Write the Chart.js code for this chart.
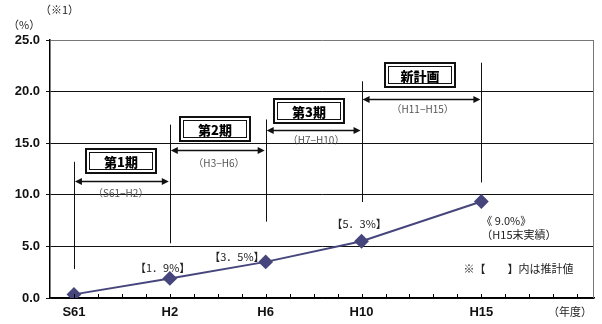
<!DOCTYPE html>
<html>
<head>
<meta charset="utf-8">
<script src="https://cdn.jsdelivr.net/npm/chart.js@4/dist/chart.umd.min.js"></script>
<style>
  html, body { margin: 0; padding: 0; background: #fff; }
  #wrap { width: 602px; height: 324px; }
</style>
</head>
<body>
<div id="wrap"><canvas id="chart"></canvas></div>
<script>
// years on the x axis (S61 = 1986, H2 = 1990 ...)
const years = [1986, 1990, 1994, 1998, 2003];
const yearLabels = ["S61", "H2", "H6", "H10", "H15"];
const rates = [0.35, 1.9, 3.5, 5.5, 9.35];

// plan periods
const periodNames = ["第1期", "第2期", "第3期", "新計画"];
const periodFrom = [1986, 1990, 1994, 1998];
const periodTo = [1990, 1994, 1998, 2003];
const periodRange = ["（S61−H2）", "（H3−H6）", "（H7−H10）", "（H11−H15）"];

// value labels next to points
const pointNotes = ["【1．9%】", "【3．5%】", "【5．3%】"];

const JP = "'Noto Sans CJK JP', 'Liberation Sans', sans-serif";
const LINE = "#46467c";

// where the annotation pieces sit, in axis units (year, %)
const vlines = [[1986, 2.8, 13.2], [1990, 5.3, 16.8], [1994, 7.4, 17.3], [1998, 9.3, 21.0], [2003, 11.2, 22.8]];
const arrowY = [11.3, 14.3, 16.3, 19.3];
const rangePos = [[1987.95, 10.2], [1992.05, 13.1], [1996.1, 15.3], [2000.55, 18.3]];
const boxPos = [[1987.95, 13.3], [1991.9, 16.4], [1995.8, 18.1], [2000.45, 21.6]];
const notePos = [[1989.7, 2.9], [1992.8, 3.95], [1997.9, 7.2]];

function arrowHead(ctx, x, y, dir) {
  ctx.beginPath();
  ctx.moveTo(x, y);
  ctx.lineTo(x - dir * 7, y - 3.5);
  ctx.lineTo(x - dir * 7, y + 3.5);
  ctx.closePath();
  ctx.fill();
}

const annotations = {
  id: "annotations",
  afterDraw(chart) {
    const ctx = chart.ctx;
    const xs = chart.scales.x, ys = chart.scales.y;
    const a = chart.chartArea;
    ctx.save();

    // inward year ticks on the x axis
    ctx.strokeStyle = "#000";
    ctx.lineWidth = 1;
    for (let yr = 1986; yr <= 2007; yr++) {
      const px = Math.round(xs.getPixelForValue(yr)) + 0.5;
      ctx.beginPath();
      ctx.moveTo(px, a.bottom);
      ctx.lineTo(px, a.bottom - 4);
      ctx.stroke();
    }

    // vertical period lines
    ctx.strokeStyle = "#111";
    vlines.forEach(v => {
      const px = Math.round(xs.getPixelForValue(v[0])) + 0.5;
      ctx.beginPath();
      ctx.moveTo(px, ys.getPixelForValue(v[1]));
      ctx.lineTo(px, ys.getPixelForValue(v[2]));
      ctx.stroke();
    });

    // double arrows
    ctx.fillStyle = "#111";
    ctx.lineWidth = 1.5;
    periodFrom.forEach((f, i) => {
      const x1 = xs.getPixelForValue(f) + 1, x2 = xs.getPixelForValue(periodTo[i]) - 1;
      const py = Math.round(ys.getPixelForValue(arrowY[i])) + 0.5;
      ctx.beginPath();
      ctx.moveTo(x1 + 5, py);
      ctx.lineTo(x2 - 5, py);
      ctx.stroke();
      arrowHead(ctx, x1, py, -1);
      arrowHead(ctx, x2, py, 1);
    });

    // period ranges
    ctx.fillStyle = "#555";
    ctx.font = "10px " + JP;
    ctx.textAlign = "center";
    ctx.textBaseline = "middle";
    rangePos.forEach((p, i) => {
      ctx.fillText(periodRange[i], xs.getPixelForValue(p[0]), ys.getPixelForValue(p[1]));
    });

    // framed period names
    boxPos.forEach((p, i) => {
      const cx = Math.round(xs.getPixelForValue(p[0]));
      const cy = Math.round(ys.getPixelForValue(p[1]));
      const w = 70, h = 24;
      ctx.fillStyle = "#fff";
      ctx.fillRect(cx - w / 2, cy - h / 2, w, h);
      ctx.strokeStyle = "#111";
      ctx.lineWidth = 2;
      ctx.strokeRect(cx - w / 2, cy - h / 2, w, h);
      ctx.lineWidth = 1;
      ctx.strokeRect(cx - w / 2 + 3.5, cy - h / 2 + 3.5, w - 7, h - 7);
      ctx.fillStyle = "#000";
      ctx.font = "900 13px " + JP;
      ctx.fillText(periodNames[i], cx, cy + 1);
    });

    // value notes
    ctx.fillStyle = "#222";
    ctx.font = "11px " + JP;
    notePos.forEach((p, i) => {
      ctx.fillText(pointNotes[i], xs.getPixelForValue(p[0]), ys.getPixelForValue(p[1]));
    });
    ctx.textAlign = "left";
    ctx.fillText("《 9.0%》", xs.getPixelForValue(2003), ys.getPixelForValue(7.45));
    ctx.fillText("（H15末実績）", xs.getPixelForValue(2003), ys.getPixelForValue(6.1));
    ctx.fillText("※【　　】内は推計値", xs.getPixelForValue(2002.25), ys.getPixelForValue(2.8));

    // unit captions
    ctx.fillStyle = "#222";
    ctx.font = "11px " + JP;
    ctx.fillText("（年度）", a.right - 46, a.bottom + 14);
    ctx.fillText("（%）", a.left - 42, a.top - 15);
    ctx.fillText("（※1）", a.left - 10, a.top - 30);
    ctx.restore();
  }
};

new Chart(document.getElementById("chart"), {
  type: "line",
  data: {
    datasets: [{
      data: years.map((yr, i) => ({ x: yr, y: rates[i] })),
      borderColor: LINE,
      backgroundColor: LINE,
      borderWidth: 2,
      pointStyle: "rectRot",
      pointRadius: 6,
      pointHoverRadius: 6,
      tension: 0
    }]
  },
  options: {
    responsive: true,
    maintainAspectRatio: false,
    animation: false,
    layout: { padding: { top: 40, right: 1, left: 0, bottom: 0 } },
    plugins: { legend: { display: false }, tooltip: { enabled: false } },
    scales: {
      x: {
        type: "linear",
        min: 1985,
        max: 2007.7,
        afterFit: s => { s.height = 26; s.paddingLeft = 0; s.paddingRight = 0; },
        afterBuildTicks: s => { s.ticks = years.map(v => ({ value: v })); },
        ticks: {
          autoSkip: false,
          maxRotation: 0,
          padding: 7,
          color: "#111",
          font: { family: "'Liberation Sans', Arial", size: 13, weight: "bold" },
          callback: v => yearLabels[years.indexOf(v)] || ""
        },
        grid: { display: false, drawTicks: false, tickLength: 0 },
        border: { color: "#000", width: 1.5 }
      },
      y: {
        min: 0,
        max: 25,
        afterFit: s => { s.width = 50; },
        ticks: {
          stepSize: 5,
          padding: 6,
          color: "#111",
          font: { family: "'Liberation Sans', Arial", size: 13, weight: "bold" },
          callback: v => v.toFixed(1)
        },
        grid: {
          color: ctx => ctx.tick && ctx.tick.value === 25 ? "#777" : "#111",
          lineWidth: 1,
          tickLength: 4,
          tickColor: "#111"
        },
        border: { color: "#000", width: 1.5 }
      }
    }
  },
  plugins: [annotations, {
    id: "rightEdge",
    afterDraw(chart) {
      const a = chart.chartArea, ctx = chart.ctx;
      ctx.save();
      ctx.strokeStyle = "#777";
      ctx.beginPath();
      ctx.moveTo(a.right - 0.5, a.top);
      ctx.lineTo(a.right - 0.5, a.bottom);
      ctx.stroke();
      ctx.restore();
    }
  }]
});
</script>
</body>
</html>
